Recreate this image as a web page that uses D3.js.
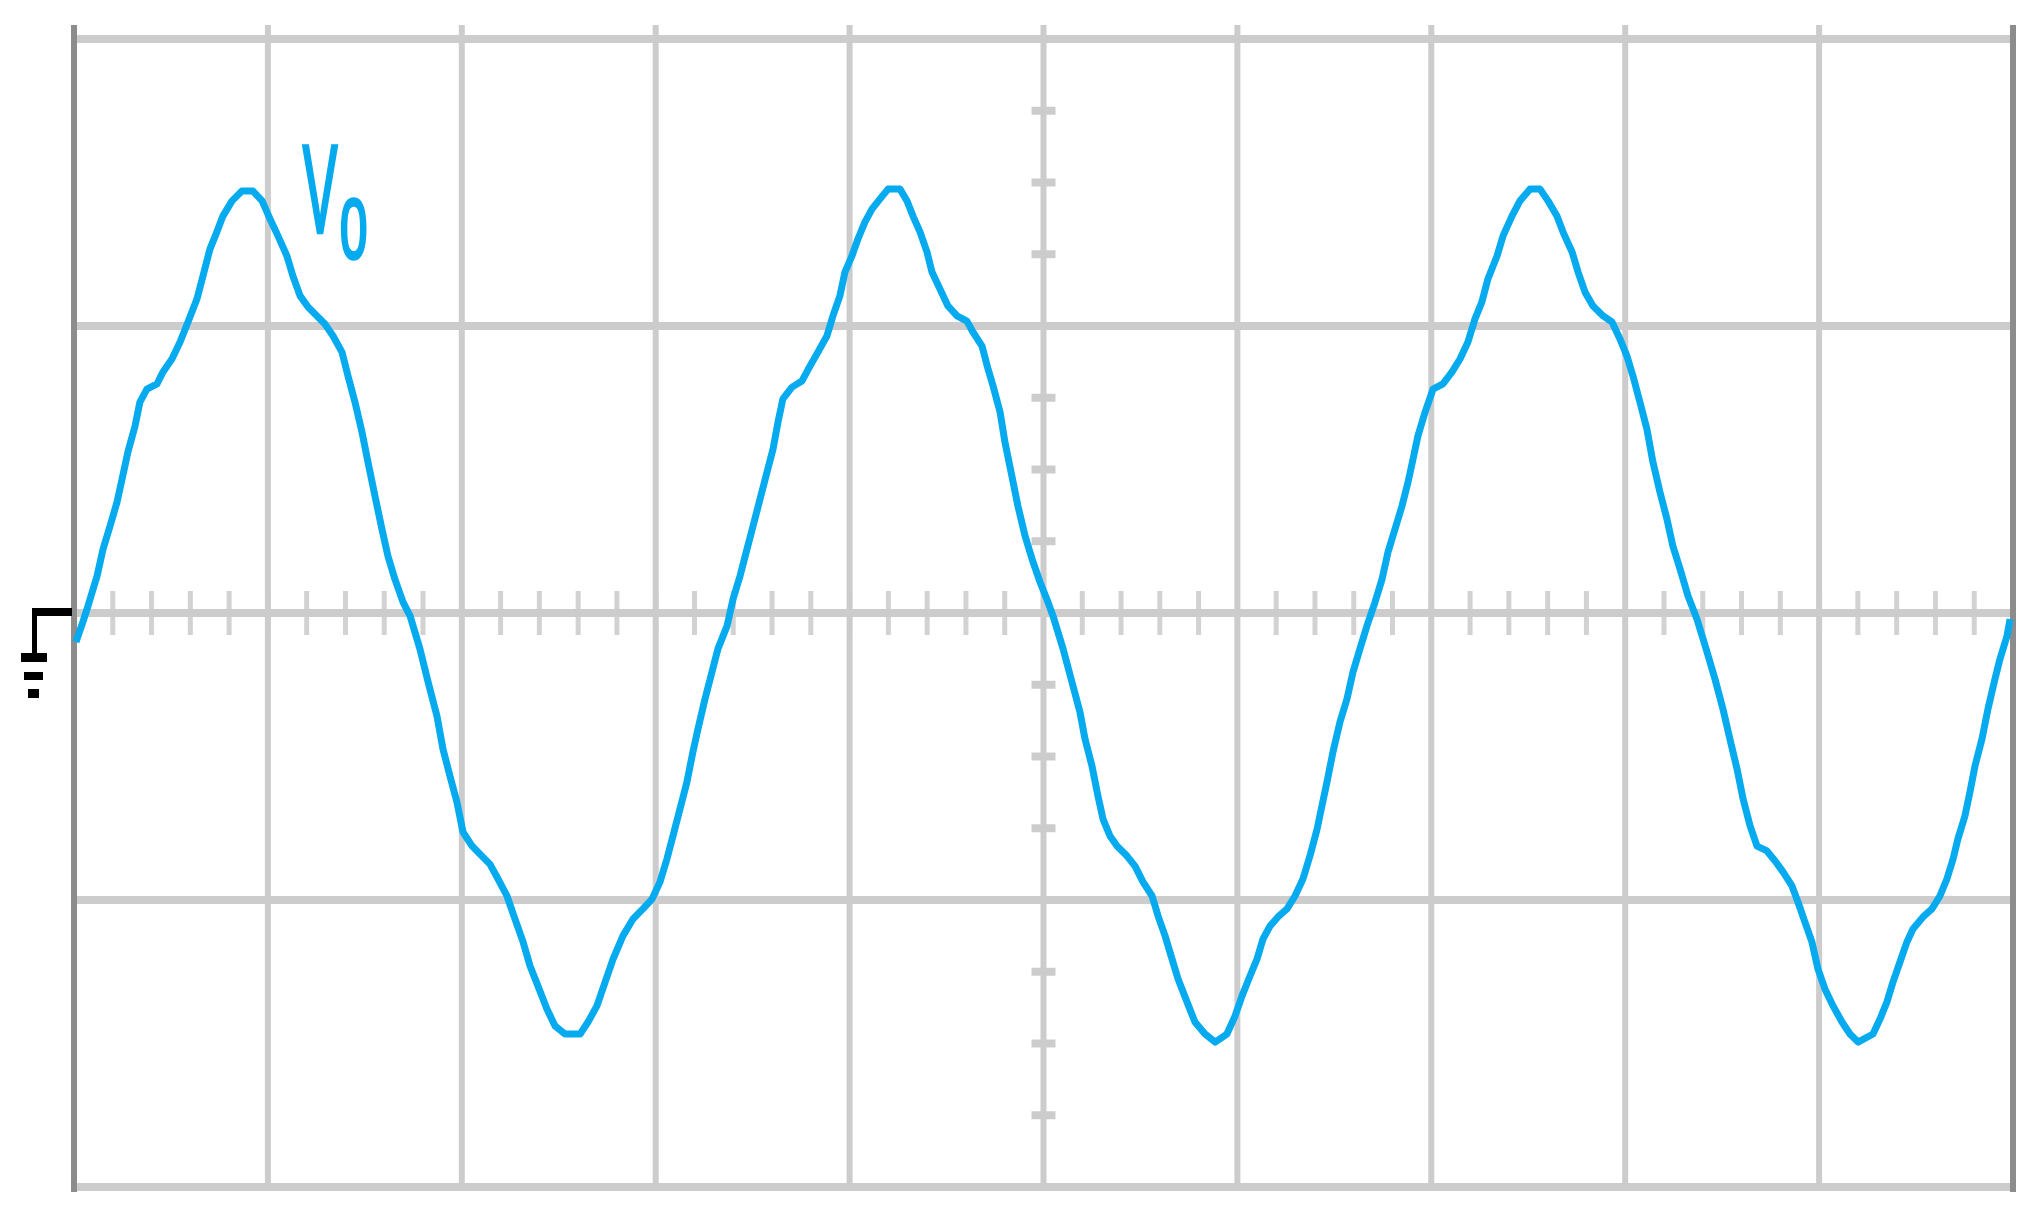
<!DOCTYPE html>
<html>
<head>
<meta charset="utf-8">
<script src="https://cdn.jsdelivr.net/npm/d3@7"></script>
<style>
  html, body { margin: 0; padding: 0; background: #ffffff; }
  svg { display: block; }
</style>
</head>
<body>
<div id="scope"></div>
<script>
// screen size
var width = 2040,
    height = 1219

// graticule: 10 divisions across, 4 down (centre line = ground level)
var xDivisions = [0, 1, 2, 3, 4, 5, 6, 7, 8, 9, 10]
var yDivisions = [-2, -1, 0, 1, 2]

// trace, time and voltage in divisions
var traceTime = [
  0.010, 0.046, 0.072, 0.119, 0.150, 0.186, 0.222, 0.248, 0.278, 0.315, 0.340, 0.376, 0.428, 0.459, 0.505,
  0.547, 0.588, 0.634, 0.665, 0.701, 0.737, 0.768, 0.815, 0.866, 0.923, 0.970, 1.011, 1.052, 1.098, 1.129,
  1.166, 1.207, 1.253, 1.294, 1.336, 1.382, 1.413, 1.449, 1.485, 1.516, 1.552, 1.588, 1.619, 1.655, 1.697,
  1.733, 1.784, 1.826, 1.872, 1.903, 1.939, 1.975, 2.006, 2.053, 2.104, 2.145, 2.187, 2.233, 2.274, 2.316,
  2.352, 2.393, 2.439, 2.481, 2.532, 2.610, 2.651, 2.697, 2.739, 2.780, 2.831, 2.883, 2.934, 2.981, 3.022,
  3.058, 3.089, 3.125, 3.161, 3.192, 3.218, 3.254, 3.290, 3.321, 3.368,
  3.399, 3.435, 3.471, 3.502, 3.538, 3.574, 3.605, 3.631, 3.656, 3.703, 3.754, 3.796, 3.837, 3.883, 3.914,
  3.950, 3.976, 4.012, 4.043, 4.079, 4.116, 4.157, 4.198, 4.260, 4.296, 4.327, 4.363, 4.399, 4.425, 4.466,
  4.507, 4.554, 4.605, 4.636, 4.683, 4.714, 4.740, 4.776, 4.801, 4.837, 4.868, 4.905, 4.941, 4.982, 5.023,
  5.049, 5.101, 5.152, 5.188, 5.214, 5.250, 5.281, 5.307, 5.343, 5.379, 5.431, 5.472, 5.513, 5.560, 5.591,
  5.627, 5.663, 5.694, 5.740, 5.781, 5.833, 5.885, 5.946, 5.988, 6.024, 6.065, 6.101, 6.132, 6.168, 6.209,
  6.256, 6.297, 6.338, 6.374, 6.411, 6.436, 6.462, 6.493, 6.529, 6.565, 6.596, 6.632, 6.668,
  6.710, 6.746, 6.777, 6.813, 6.849, 6.880, 6.906, 6.931, 6.968, 7.009, 7.060, 7.107, 7.148, 7.189, 7.225,
  7.261, 7.292, 7.339, 7.370, 7.416, 7.457, 7.509, 7.561, 7.602, 7.648, 7.679, 7.726, 7.757, 7.793, 7.834,
  7.886, 7.932, 7.973, 8.009, 8.040, 8.076, 8.112, 8.143, 8.179, 8.215, 8.246, 8.283, 8.324,
  8.370, 8.422, 8.463, 8.504, 8.540, 8.577, 8.608, 8.644, 8.680, 8.731, 8.773, 8.814, 8.860, 8.891, 8.927,
  8.963, 8.994, 9.030, 9.072, 9.118, 9.159, 9.201, 9.278, 9.314, 9.350, 9.381, 9.417, 9.453, 9.484, 9.536,
  9.582, 9.623, 9.659, 9.691, 9.716, 9.752, 9.778, 9.804, 9.840, 9.871, 9.907, 9.933, 9.969, 9.985
]
var traceVolts = [
  -0.101, -0.031, 0.024, 0.129, 0.223, 0.303, 0.387, 0.467, 0.561, 0.652, 0.735, 0.780, 0.798, 0.840, 0.885,
  0.944, 1.014, 1.094, 1.174, 1.268, 1.328, 1.383, 1.436, 1.470, 1.470, 1.436, 1.373, 1.314, 1.244, 1.174,
  1.105, 1.066, 1.035, 1.007, 0.965, 0.909, 0.826, 0.735, 0.631, 0.526, 0.408, 0.293, 0.199, 0.118, 0.038,
  -0.010, -0.125, -0.240, -0.359, -0.474, -0.568, -0.659, -0.763, -0.812, -0.847, -0.875, -0.927, -0.986, -1.066, -1.146,
  -1.230, -1.300, -1.380, -1.439, -1.467, -1.467, -1.425, -1.369, -1.286, -1.206, -1.125, -1.066, -1.031, -0.997, -0.937,
  -0.857, -0.777, -0.683, -0.589, -0.484, -0.404, -0.300, -0.206, -0.125, -0.045,
  0.049, 0.129, 0.223, 0.303, 0.397, 0.491, 0.571, 0.666, 0.746, 0.787, 0.808, 0.861, 0.909, 0.965, 1.035,
  1.105, 1.188, 1.244, 1.303, 1.362, 1.408, 1.443, 1.477, 1.477, 1.436, 1.383, 1.328, 1.258, 1.188, 1.129,
  1.070, 1.035, 1.017, 0.979, 0.930, 0.850, 0.791, 0.700, 0.596, 0.477, 0.373, 0.268, 0.188, 0.108, 0.038,
  -0.010, -0.125, -0.254, -0.345, -0.439, -0.533, -0.638, -0.718, -0.777, -0.812, -0.847, -0.882, -0.937, -0.986, -1.056,
  -1.125, -1.206, -1.275, -1.355, -1.425, -1.467, -1.495, -1.467, -1.404, -1.334, -1.265, -1.206, -1.136, -1.091, -1.059,
  -1.031, -0.986, -0.927, -0.847, -0.753, -0.672, -0.589, -0.484, -0.380, -0.300, -0.206, -0.125, -0.045,
  0.038, 0.118, 0.213, 0.293, 0.373, 0.456, 0.537, 0.617, 0.700, 0.780, 0.798, 0.840, 0.885, 0.944, 1.024,
  1.084, 1.164, 1.244, 1.314, 1.383, 1.436, 1.477, 1.477, 1.436, 1.383, 1.328, 1.258, 1.188, 1.118, 1.070,
  1.035, 1.014, 0.955, 0.895, 0.826, 0.735, 0.641, 0.526, 0.422, 0.328, 0.233, 0.153, 0.059,
  -0.021, -0.136, -0.230, -0.334, -0.439, -0.544, -0.648, -0.742, -0.812, -0.829, -0.864, -0.902, -0.951, -1.007, -1.077,
  -1.146, -1.240, -1.310, -1.369, -1.425, -1.467, -1.495, -1.467, -1.415, -1.355, -1.286, -1.216, -1.146, -1.101, -1.059,
  -1.031, -0.986, -0.927, -0.857, -0.787, -0.707, -0.624, -0.533, -0.439, -0.334, -0.230, -0.160, -0.080, -0.021
]

var traceName = "V"
var traceSub = "0"

// colours
var gridColor = "#cccccc"
var tickColor = "#d2d2d2"
var frameColor = "#8c8c8c"
var traceColor = "#06aaee"

// scales
var x = d3.scaleLinear().domain([0, 10]).range([74, 2013])
var y = d3.scaleLinear().domain([-2, 2]).range([1187, 39])

var svg = d3.select("#scope")
  .append("svg")
    .attr("width", width)
    .attr("height", height)

svg.append("rect")
  .attr("width", width)
  .attr("height", height)
  .attr("fill", "#ffffff")

// minor ticks on the centre lines
var minorX = d3.range(0, 50).map(function(i) { return i / 5 })
var minorY = d3.range(-8, 9).filter(function(i) { return i % 4 != 0 }).map(function(i) { return i / 4 })

svg.append("g")
  .selectAll("line")
  .data(minorX)
  .enter()
  .append("line")
    .attr("x1", function(d) { return x(d) })
    .attr("x2", function(d) { return x(d) })
    .attr("y1", y(0) - 22)
    .attr("y2", y(0) + 22)
    .attr("stroke", tickColor)
    .attr("stroke-width", 5)

svg.append("g")
  .selectAll("line")
  .data(minorY)
  .enter()
  .append("line")
    .attr("x1", x(5) - 12)
    .attr("x2", x(5) + 12)
    .attr("y1", function(d) { return y(d) })
    .attr("y2", function(d) { return y(d) })
    .attr("stroke", gridColor)
    .attr("stroke-width", 8)

// vertical grid lines
svg.append("g")
  .selectAll("line")
  .data(xDivisions.slice(1, -1))
  .enter()
  .append("line")
    .attr("x1", function(d) { return x(d) })
    .attr("x2", function(d) { return x(d) })
    .attr("y1", y(2) - 14)
    .attr("y2", y(-2) + 4)
    .attr("stroke", gridColor)
    .attr("stroke-width", 6)

// horizontal grid lines
svg.append("g")
  .selectAll("line")
  .data(yDivisions)
  .enter()
  .append("line")
    .attr("x1", x(0))
    .attr("x2", x(10))
    .attr("y1", function(d) { return y(d) })
    .attr("y2", function(d) { return y(d) })
    .attr("stroke", gridColor)
    .attr("stroke-width", 8)

// left / right frame
svg.append("g")
  .selectAll("line")
  .data([xDivisions[0], xDivisions[xDivisions.length - 1]])
  .enter()
  .append("line")
    .attr("x1", function(d) { return x(d) })
    .attr("x2", function(d) { return x(d) })
    .attr("y1", y(2) - 14)
    .attr("y2", y(-2) + 5)
    .attr("stroke", frameColor)
    .attr("stroke-width", 6)

// the trace
var trace = traceTime.map(function(t, i) { return [t, traceVolts[i]] })

var line = d3.line()
  .x(function(d) { return x(d[0]) })
  .y(function(d) { return y(d[1]) })

svg.append("path")
  .datum(trace)
  .attr("d", line)
  .attr("fill", "none")
  .attr("stroke", traceColor)
  .attr("stroke-width", 7)
  .attr("stroke-linejoin", "round")

// trace label V0 (tall, narrow scope lettering)
svg.append("text")
  .attr("transform", "translate(" + 303 + "," + 232 + ") scale(0.64,1.55)")
  .attr("font-family", "Liberation Sans, Arial, sans-serif")
  .attr("font-size", 80)
  .attr("fill", traceColor)
  .attr("stroke", traceColor)
  .attr("stroke-width", 3)
  .text(traceName)

svg.append("text")
  .attr("transform", "translate(" + 340 + "," + 258 + ") scale(0.82,1.42)")
  .attr("font-family", "Liberation Sans, Arial, sans-serif")
  .attr("font-size", 60)
  .attr("fill", traceColor)
  .attr("stroke", traceColor)
  .attr("stroke-width", 2.5)
  .text(traceSub)

// ground marker at the channel's zero level
var g0 = y(0)
var ground = svg.append("g").attr("fill", "#000000")
ground.append("rect").attr("x", 32).attr("y", g0 - 5).attr("width", x(0) - 34).attr("height", 8)
ground.append("rect").attr("x", 32).attr("y", g0 - 5).attr("width", 5).attr("height", 47)
ground.append("rect").attr("x", 21).attr("y", g0 + 40).attr("width", 26).attr("height", 9)
ground.append("rect").attr("x", 24).attr("y", g0 + 59).attr("width", 19).attr("height", 8)
ground.append("rect").attr("x", 28).attr("y", g0 + 76).attr("width", 11).attr("height", 9)
</script>
</body>
</html>
